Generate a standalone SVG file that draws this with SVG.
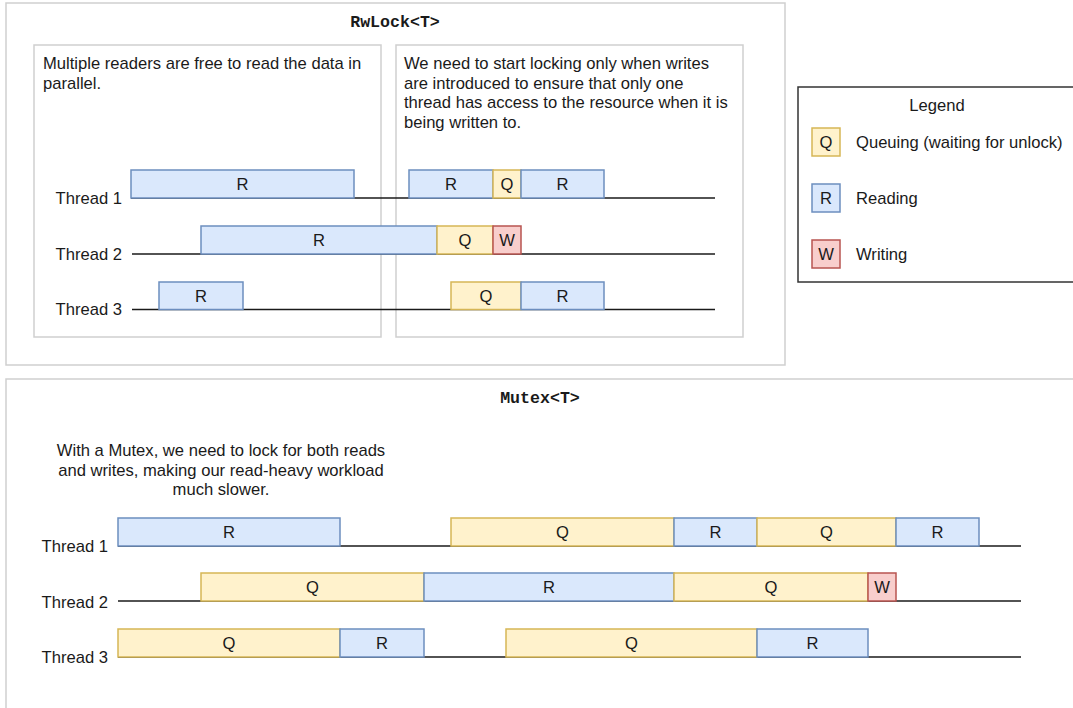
<svg xmlns="http://www.w3.org/2000/svg" width="1073" height="708" viewBox="0 0 1073 708">
<style>
text{font-family:"Liberation Sans",Arial,sans-serif;font-size:16.6px;fill:#1a1a1a}
.title{font-family:"Liberation Mono","Courier New",monospace;font-weight:bold;font-size:16.6px;text-anchor:middle}
.frame{fill:#fff;stroke:#cfcfcf;stroke-width:1.5}
.legend{fill:#fff;stroke:#333;stroke-width:1.5}
.r{fill:#dae8fc;stroke:#6c8ebf;stroke-width:1.5}
.q{fill:#fff2cc;stroke:#d6b656;stroke-width:1.5}
.w{fill:#f8cecc;stroke:#b85450;stroke-width:1.5}
.lbl{text-anchor:middle}
.th{text-anchor:end}
.tl{stroke:#1a1a1a;stroke-width:1.5;fill:none}
</style>
<rect width="1073" height="708" fill="#fff"/>
<g id="rwlock-frame">
<rect class="frame" x="6" y="3" width="779" height="362"/>
<text class="title" x="395" y="27">RwLock&lt;T&gt;</text>
</g>
<g id="rw-left-panel">
<rect class="frame" x="34" y="45" width="347" height="292"/>
<text x="43" y="69">Multiple readers are free to read the data in</text>
<text x="43" y="88.5">parallel.</text>
</g>
<g id="rw-right-panel">
<rect class="frame" x="396" y="45" width="347" height="292"/>
<text x="404" y="69">We need to start locking only when writes</text>
<text x="404" y="88.5">are introduced to ensure that only one</text>
<text x="404" y="108">thread has access to the resource when it is</text>
<text x="404" y="127.5">being written to.</text>
</g>
<g id="rw-thread-labels">
<text class="th" x="122" y="204">Thread 1</text>
<text class="th" x="122" y="260">Thread 2</text>
<text class="th" x="122" y="315">Thread 3</text>
</g>
<g id="mutex-frame">
<rect class="frame" x="6" y="379" width="1080" height="340"/>
<text class="title" x="540" y="403">Mutex&lt;T&gt;</text>
<text class="lbl" x="221" y="456">With a Mutex, we need to lock for both reads</text>
<text class="lbl" x="221" y="475.5">and writes, making our read-heavy workload</text>
<text class="lbl" x="221" y="495">much slower.</text>
</g>
<g id="mutex-thread-labels">
<text class="th" x="108" y="552">Thread 1</text>
<text class="th" x="108" y="608">Thread 2</text>
<text class="th" x="108" y="663">Thread 3</text>
</g>
<g id="connectors">
<line class="tl" x1="131" y1="198" x2="715" y2="198"/>
<line class="tl" x1="132" y1="254" x2="715" y2="254"/>
<line class="tl" x1="132" y1="309.5" x2="715" y2="309.5"/>
<line class="tl" x1="118" y1="546" x2="1021" y2="546"/>
<line class="tl" x1="118" y1="601" x2="1021" y2="601"/>
<line class="tl" x1="118" y1="657" x2="1021" y2="657"/>
</g>
<g id="rw-bars">
<g id="rw-t1-r"><rect class="r" x="131" y="170" width="223" height="28"/><text class="lbl" x="242.5" y="190">R</text></g>
<g id="rw-t2-r"><rect class="r" x="201" y="226" width="236" height="28"/><text class="lbl" x="319" y="246">R</text></g>
<g id="rw-t2-q"><rect class="q" x="437" y="226" width="56" height="28"/><text class="lbl" x="465" y="246">Q</text></g>
<g id="rw-t2-w"><rect class="w" x="493" y="226" width="28" height="28"/><text class="lbl" x="507" y="246">W</text></g>
<g id="rw-t3-r"><rect class="r" x="159" y="282" width="84" height="27.5"/><text class="lbl" x="201" y="302">R</text></g>
<g id="rw-t1-r2"><rect class="r" x="409" y="170" width="84" height="28"/><text class="lbl" x="451" y="190">R</text></g>
<g id="rw-t1-q"><rect class="q" x="493" y="170" width="28" height="28"/><text class="lbl" x="507" y="190">Q</text></g>
<g id="rw-t1-r3"><rect class="r" x="521" y="170" width="83" height="28"/><text class="lbl" x="562.5" y="190">R</text></g>
<g id="rw-t3-q"><rect class="q" x="451" y="282" width="70" height="27.5"/><text class="lbl" x="486" y="302">Q</text></g>
<g id="rw-t3-r2"><rect class="r" x="521" y="282" width="83" height="27.5"/><text class="lbl" x="562.5" y="302">R</text></g>
</g>
<g id="mutex-bars">
<g id="mx-t1-r"><rect class="r" x="118" y="518" width="222" height="28"/><text class="lbl" x="229" y="538">R</text></g>
<g id="mx-t1-q"><rect class="q" x="451" y="518" width="223" height="28"/><text class="lbl" x="562.5" y="538">Q</text></g>
<g id="mx-t1-r2"><rect class="r" x="674" y="518" width="83" height="28"/><text class="lbl" x="715.5" y="538">R</text></g>
<g id="mx-t1-q2"><rect class="q" x="757" y="518" width="139" height="28"/><text class="lbl" x="826.5" y="538">Q</text></g>
<g id="mx-t1-r3"><rect class="r" x="896" y="518" width="83" height="28"/><text class="lbl" x="937.5" y="538">R</text></g>
<g id="mx-t2-q"><rect class="q" x="201" y="573" width="223" height="28"/><text class="lbl" x="312.5" y="593">Q</text></g>
<g id="mx-t2-r"><rect class="r" x="424" y="573" width="250" height="28"/><text class="lbl" x="549" y="593">R</text></g>
<g id="mx-t2-q2"><rect class="q" x="674" y="573" width="194" height="28"/><text class="lbl" x="771" y="593">Q</text></g>
<g id="mx-t2-w"><rect class="w" x="868" y="573" width="28" height="28"/><text class="lbl" x="882" y="593">W</text></g>
<g id="mx-t3-q"><rect class="q" x="118" y="629" width="222" height="28"/><text class="lbl" x="229" y="649">Q</text></g>
<g id="mx-t3-r"><rect class="r" x="340" y="629" width="84" height="28"/><text class="lbl" x="382" y="649">R</text></g>
<g id="mx-t3-q2"><rect class="q" x="506" y="629" width="251" height="28"/><text class="lbl" x="631.5" y="649">Q</text></g>
<g id="mx-t3-r2"><rect class="r" x="757" y="629" width="111" height="28"/><text class="lbl" x="812.5" y="649">R</text></g>
</g>
<g id="legend">
<rect class="legend" x="798" y="87" width="280" height="195"/>
<text class="lbl" x="937" y="111">Legend</text>
<g id="legend-q"><rect class="q" x="812" y="128" width="28" height="28"/><text class="lbl" x="826" y="148">Q</text><text x="856" y="148">Queuing (waiting for unlock)</text></g>
<g id="legend-r"><rect class="r" x="812" y="184" width="28" height="28"/><text class="lbl" x="826" y="204">R</text><text x="856" y="204">Reading</text></g>
<g id="legend-w"><rect class="w" x="812" y="240" width="28" height="28"/><text class="lbl" x="826" y="260">W</text><text x="856" y="260">Writing</text></g>
</g>
</svg>
